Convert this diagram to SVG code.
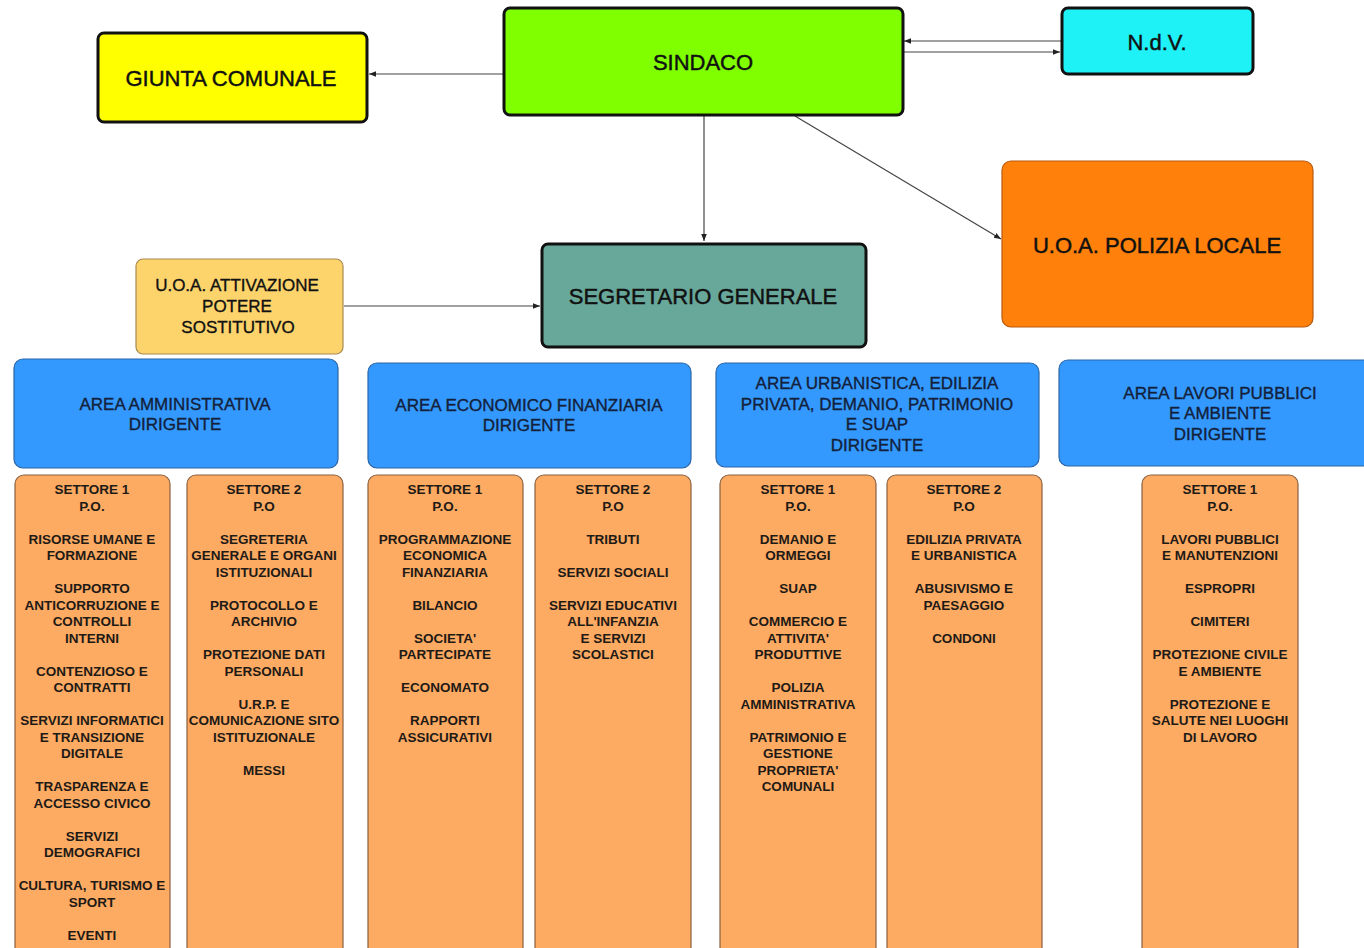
<svg xmlns="http://www.w3.org/2000/svg" width="1364" height="948" viewBox="0 0 1364 948">
<style>
.big{font-family:"Liberation Sans",Arial,sans-serif;font-size:22px;fill:#111;stroke:#111;stroke-width:0.45;text-anchor:middle}
.mid{font-family:"Liberation Sans",Arial,sans-serif;font-size:17px;fill:#111;stroke:#111;stroke-width:0.35;text-anchor:middle}
.area{font-family:"Liberation Sans",Arial,sans-serif;font-size:17px;fill:#14213a;stroke:#14213a;stroke-width:0.35;text-anchor:middle}
.st{font-family:"Liberation Sans",Arial,sans-serif;font-size:13.5px;font-weight:bold;fill:#1e1a16;text-anchor:middle}
.thick{stroke:#111;stroke-width:3}
.areabox{fill:#3399FF;stroke:#2a66a8;stroke-width:1.2}
.setbox{fill:#FDAA62;stroke:#8a6040;stroke-width:1.2}
.conn{stroke:#444;stroke-width:1.2;fill:none}
</style>
<defs>
<marker id="arr" viewBox="0 0 10 10" refX="10" refY="5" markerWidth="7" markerHeight="7" orient="auto" markerUnits="userSpaceOnUse">
<path d="M0,1 L10,5 L0,9 z" fill="#222"/>
</marker>
</defs>
<rect width="1364" height="948" fill="#fff"/>

<g id="connectors">
<line class="conn" x1="503" y1="74" x2="369" y2="74" marker-end="url(#arr)"/>
<line class="conn" x1="1061" y1="41" x2="904" y2="41" marker-end="url(#arr)"/>
<line class="conn" x1="904" y1="52" x2="1060" y2="52" marker-end="url(#arr)"/>
<line class="conn" x1="704" y1="116" x2="704" y2="241" marker-end="url(#arr)"/>
<line class="conn" x1="795" y1="116" x2="1001" y2="239" marker-end="url(#arr)"/>
<line class="conn" x1="344" y1="306" x2="540" y2="306" marker-end="url(#arr)"/>
</g>

<g id="sindaco">
<rect x="504" y="8" width="399" height="107" rx="6" fill="#80FF00" class="thick"/>
<text class="big" x="703" y="70">SINDACO</text>
</g>
<g id="giunta">
<rect x="98" y="33" width="269" height="89" rx="6" fill="#FFFF00" class="thick"/>
<text class="big" x="231" y="86">GIUNTA COMUNALE</text>
</g>
<g id="ndv">
<rect x="1062" y="8" width="191" height="66" rx="6" fill="#1EF2F7" class="thick"/>
<text class="big" x="1157" y="50">N.d.V.</text>
</g>
<g id="polizia">
<rect x="1002" y="161" width="311" height="166" rx="9" fill="#FF800A" stroke="#b85a10" stroke-width="1.2"/>
<text class="big" x="1157" y="253">U.O.A. POLIZIA LOCALE</text>
</g>
<g id="segretario">
<rect x="542" y="244" width="324" height="103" rx="6" fill="#68A89A" class="thick"/>
<text class="big" x="703" y="304">SEGRETARIO GENERALE</text>
</g>
<g id="attivazione">
<rect x="136" y="259" width="207" height="95" rx="7" fill="#FDD46C" stroke="#a88a50" stroke-width="1.2"/>
<text class="mid" x="237" y="291">U.O.A. ATTIVAZIONE</text>
<text class="mid" x="237" y="312">POTERE</text>
<text class="mid" x="238" y="333">SOSTITUTIVO</text>
</g>

<g id="area-amministrativa">
<rect class="areabox" x="14" y="359" width="324" height="109" rx="9"/>
<text class="area" x="175" y="410">AREA AMMINISTRATIVA</text>
<text class="area" x="175" y="430">DIRIGENTE</text>
</g>
<g id="area-economico">
<rect class="areabox" x="368" y="363" width="323" height="105" rx="9"/>
<text class="area" x="529" y="411">AREA ECONOMICO FINANZIARIA</text>
<text class="area" x="529" y="431">DIRIGENTE</text>
</g>
<g id="area-urbanistica">
<rect class="areabox" x="716" y="363" width="323" height="104" rx="9"/>
<text class="area" x="877" y="389">AREA URBANISTICA, EDILIZIA</text>
<text class="area" x="877" y="410">PRIVATA, DEMANIO, PATRIMONIO</text>
<text class="area" x="877" y="430">E SUAP</text>
<text class="area" x="877" y="451">DIRIGENTE</text>
</g>
<g id="area-lavori">
<rect class="areabox" x="1059" y="360" width="324" height="106" rx="9"/>
<text class="area" x="1220" y="399">AREA LAVORI PUBBLICI</text>
<text class="area" x="1220" y="419">E AMBIENTE</text>
<text class="area" x="1220" y="440">DIRIGENTE</text>
</g>

<g id="a1-settore1">
<rect class="setbox" x="15" y="475" width="155" height="490" rx="9"/>
<text class="st" x="92" y="494">SETTORE 1</text>
<text class="st" x="92" y="510.5">P.O.</text>
<text class="st" x="92" y="543.5">RISORSE UMANE E</text>
<text class="st" x="92" y="560">FORMAZIONE</text>
<text class="st" x="92" y="593">SUPPORTO</text>
<text class="st" x="92" y="609.5">ANTICORRUZIONE E</text>
<text class="st" x="92" y="626">CONTROLLI</text>
<text class="st" x="92" y="642.5">INTERNI</text>
<text class="st" x="92" y="675.5">CONTENZIOSO E</text>
<text class="st" x="92" y="692">CONTRATTI</text>
<text class="st" x="92" y="725">SERVIZI INFORMATICI</text>
<text class="st" x="92" y="741.5">E TRANSIZIONE</text>
<text class="st" x="92" y="758">DIGITALE</text>
<text class="st" x="92" y="791">TRASPARENZA E</text>
<text class="st" x="92" y="807.5">ACCESSO CIVICO</text>
<text class="st" x="92" y="840.5">SERVIZI</text>
<text class="st" x="92" y="857">DEMOGRAFICI</text>
<text class="st" x="92" y="890">CULTURA, TURISMO E</text>
<text class="st" x="92" y="906.5">SPORT</text>
<text class="st" x="92" y="939.5">EVENTI</text>
</g>
<g id="a1-settore2">
<rect class="setbox" x="187" y="475" width="156" height="490" rx="9"/>
<text class="st" x="264" y="494">SETTORE 2</text>
<text class="st" x="264" y="510.5">P.O</text>
<text class="st" x="264" y="543.5">SEGRETERIA</text>
<text class="st" x="264" y="560">GENERALE E ORGANI</text>
<text class="st" x="264" y="576.5">ISTITUZIONALI</text>
<text class="st" x="264" y="609.5">PROTOCOLLO E</text>
<text class="st" x="264" y="626">ARCHIVIO</text>
<text class="st" x="264" y="659">PROTEZIONE DATI</text>
<text class="st" x="264" y="675.5">PERSONALI</text>
<text class="st" x="264" y="708.5">U.R.P. E</text>
<text class="st" x="264" y="725">COMUNICAZIONE SITO</text>
<text class="st" x="264" y="741.5">ISTITUZIONALE</text>
<text class="st" x="264" y="774.5">MESSI</text>
</g>
<g id="a2-settore1">
<rect class="setbox" x="368" y="475" width="155" height="490" rx="9"/>
<text class="st" x="445" y="494">SETTORE 1</text>
<text class="st" x="445" y="510.5">P.O.</text>
<text class="st" x="445" y="543.5">PROGRAMMAZIONE</text>
<text class="st" x="445" y="560">ECONOMICA</text>
<text class="st" x="445" y="576.5">FINANZIARIA</text>
<text class="st" x="445" y="609.5">BILANCIO</text>
<text class="st" x="445" y="642.5">SOCIETA'</text>
<text class="st" x="445" y="659">PARTECIPATE</text>
<text class="st" x="445" y="692">ECONOMATO</text>
<text class="st" x="445" y="725">RAPPORTI</text>
<text class="st" x="445" y="741.5">ASSICURATIVI</text>
</g>
<g id="a2-settore2">
<rect class="setbox" x="535" y="475" width="156" height="490" rx="9"/>
<text class="st" x="613" y="494">SETTORE 2</text>
<text class="st" x="613" y="510.5">P.O</text>
<text class="st" x="613" y="543.5">TRIBUTI</text>
<text class="st" x="613" y="576.5">SERVIZI SOCIALI</text>
<text class="st" x="613" y="609.5">SERVIZI EDUCATIVI</text>
<text class="st" x="613" y="626">ALL'INFANZIA</text>
<text class="st" x="613" y="642.5">E SERVIZI</text>
<text class="st" x="613" y="659">SCOLASTICI</text>
</g>
<g id="a3-settore1">
<rect class="setbox" x="720" y="475" width="156" height="490" rx="9"/>
<text class="st" x="798" y="494">SETTORE 1</text>
<text class="st" x="798" y="510.5">P.O.</text>
<text class="st" x="798" y="543.5">DEMANIO E</text>
<text class="st" x="798" y="560">ORMEGGI</text>
<text class="st" x="798" y="593">SUAP</text>
<text class="st" x="798" y="626">COMMERCIO E</text>
<text class="st" x="798" y="642.5">ATTIVITA'</text>
<text class="st" x="798" y="659">PRODUTTIVE</text>
<text class="st" x="798" y="692">POLIZIA</text>
<text class="st" x="798" y="708.5">AMMINISTRATIVA</text>
<text class="st" x="798" y="741.5">PATRIMONIO E</text>
<text class="st" x="798" y="758">GESTIONE</text>
<text class="st" x="798" y="774.5">PROPRIETA'</text>
<text class="st" x="798" y="791">COMUNALI</text>
</g>
<g id="a3-settore2">
<rect class="setbox" x="887" y="475" width="155" height="490" rx="9"/>
<text class="st" x="964" y="494">SETTORE 2</text>
<text class="st" x="964" y="510.5">P.O</text>
<text class="st" x="964" y="543.5">EDILIZIA PRIVATA</text>
<text class="st" x="964" y="560">E URBANISTICA</text>
<text class="st" x="964" y="593">ABUSIVISMO E</text>
<text class="st" x="964" y="609.5">PAESAGGIO</text>
<text class="st" x="964" y="642.5">CONDONI</text>
</g>
<g id="a4-settore1">
<rect class="setbox" x="1142" y="475" width="156" height="490" rx="9"/>
<text class="st" x="1220" y="494">SETTORE 1</text>
<text class="st" x="1220" y="510.5">P.O.</text>
<text class="st" x="1220" y="543.5">LAVORI PUBBLICI</text>
<text class="st" x="1220" y="560">E MANUTENZIONI</text>
<text class="st" x="1220" y="593">ESPROPRI</text>
<text class="st" x="1220" y="626">CIMITERI</text>
<text class="st" x="1220" y="659">PROTEZIONE CIVILE</text>
<text class="st" x="1220" y="675.5">E AMBIENTE</text>
<text class="st" x="1220" y="708.5">PROTEZIONE E</text>
<text class="st" x="1220" y="725">SALUTE NEI LUOGHI</text>
<text class="st" x="1220" y="741.5">DI LAVORO</text>
</g>
</svg>
